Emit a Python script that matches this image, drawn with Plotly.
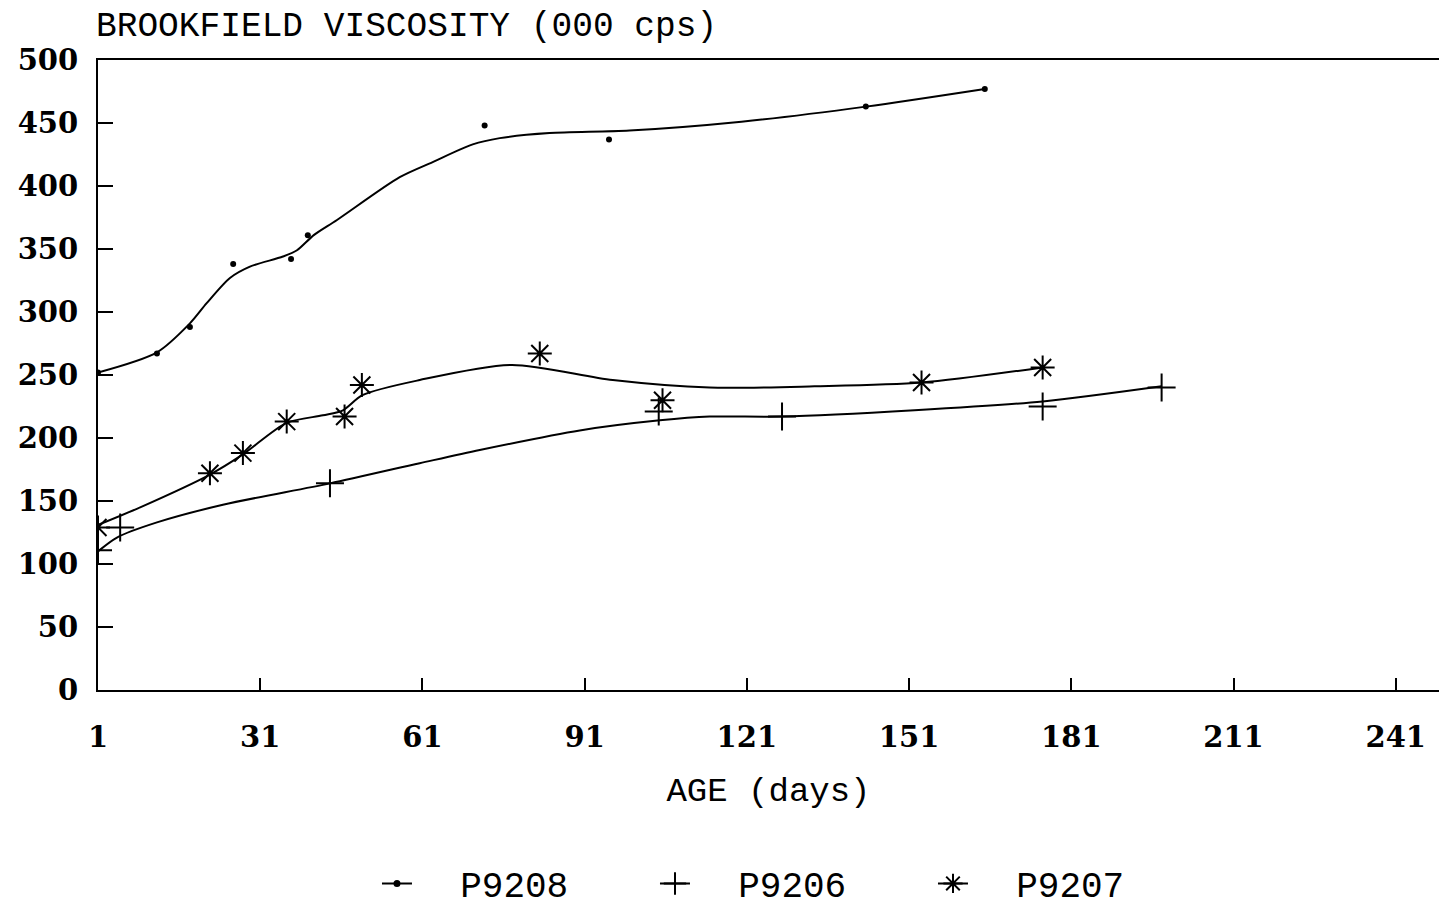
import plotly.graph_objects as go

# ---- data ----
p9208_days = [1, 11.9, 18, 26, 36.7, 39.8, 72.5, 95.5, 143, 165]
p9208_vals = [252, 267, 288, 338, 342, 361, 448, 437, 463, 477]
p9208_fit_days = [1, 11.9, 18, 21.1, 25.4, 29.1, 35.2, 37.8, 40.9, 45.2, 56.8, 62.9, 70.3, 75.3, 84.5, 99.3, 120, 143, 165]
p9208_fit_vals = [252, 268, 291, 307, 327, 336, 344, 349, 361, 373, 407, 419, 433, 438, 442, 444, 451, 463, 477]

p9206_days = [1, 5.1, 43.9, 104.7, 127.5, 175.7, 197.7]
p9206_vals = [111, 129, 164, 221, 217, 225, 240]
p9206_fit_days = [1, 4.5, 11.9, 24.1, 43.9, 60.5, 71.6, 90.1, 104.9, 114.1, 127.5, 152, 175.7, 197.7]
p9206_fit_vals = [110, 121, 133, 147, 164, 180, 190.5, 206, 214, 217, 217, 222, 229, 241]

p9207_days = [1, 21.7, 27.8, 35.9, 46.6, 49.8, 82.7, 105.4, 153.3, 175.7]
p9207_vals = [129, 172, 188, 213, 217, 242, 267, 230, 244, 256]
p9207_fit_days = [1, 8.8, 21.7, 27.8, 35.9, 42.6, 46.3, 49.9, 60.5, 77.5, 96.2, 114.1, 133.5, 153.3, 175.7]
p9207_fit_vals = [131, 145, 171, 187, 212, 218, 222, 234, 246, 258, 246, 240, 241, 244, 256]

x_ticks = [1, 31, 61, 91, 121, 151, 181, 211, 241]
y_ticks = [0, 50, 100, 150, 200, 250, 300, 350, 400, 450, 500]

series = [
    ("P9208", p9208_days, p9208_vals, p9208_fit_days, p9208_fit_vals,
     dict(symbol="circle", size=6, color="black")),
    ("P9206", p9206_days, p9206_vals, p9206_fit_days, p9206_fit_vals,
     dict(symbol="cross-thin", size=20, color="black", line=dict(width=2, color="black"))),
    ("P9207", p9207_days, p9207_vals, p9207_fit_days, p9207_fit_vals,
     dict(symbol="asterisk", size=20, color="black", line=dict(width=2, color="black"))),
]

TXT = "Liberation Mono"
TICK = "DejaVu Serif"
NB = "\u00a0"

fig = go.Figure()
for name, dx, dy, fx, fy, mk in series:
    fig.add_trace(go.Scatter(x=fx, y=fy, mode="lines",
                             line=dict(color="black", width=2, shape="spline", smoothing=0.8),
                             showlegend=False, hoverinfo="skip"))
    fig.add_trace(go.Scatter(x=dx, y=dy, mode="markers", marker=mk, showlegend=False, name=name))
for name, dx, dy, fx, fy, mk in series:
    lmk = dict(mk)
    lmk["size"] = 7 if name == "P9208" else 18
    fig.add_trace(go.Scatter(x=[None], y=[None], mode="lines+markers", name=NB * 2 + name,
                             line=dict(color="black", width=2), marker=lmk))

fig.update_layout(
    width=1439, height=909,
    margin=dict(l=98, r=0, t=60, b=219),
    paper_bgcolor="white", plot_bgcolor="white",
    showlegend=True,
    legend=dict(orientation="h", x=0.519, xanchor="center", yref="container", y=0.028, yanchor="middle",
                font=dict(family=TXT, size=36, color="black"),
                entrywidth=233, entrywidthmode="pixels", bgcolor="rgba(0,0,0,0)"),
    font=dict(family=TXT, color="black"),
)
fig.update_xaxes(range=[1, 249], tickmode="array", tickvals=x_ticks, ticktext=[str(t) for t in x_ticks],
                 ticks="inside", ticklen=12, tickwidth=2, tickcolor="black",
                 showline=True, linecolor="black", linewidth=2, mirror=True,
                 showgrid=False, zeroline=False, ticklabelstandoff=20,
                 tickfont=dict(family=TICK, size=29, color="black", weight="bold"),
                 title=dict(text="AGE (days)", font=dict(family=TXT, size=34, color="black"), standoff=24))
fig.update_yaxes(range=[0, 500], tickmode="array", tickvals=y_ticks, ticktext=[str(t) for t in y_ticks],
                 ticks="inside", ticklen=15, tickwidth=2, tickcolor="black",
                 showline=True, linecolor="black", linewidth=2,
                 showgrid=False, zeroline=False, ticklabelstandoff=12,
                 tickfont=dict(family=TICK, size=29, color="black", weight="bold"))
fig.add_annotation(text="BROOKFIELD VISCOSITY (000 cps)", xref="paper", yref="paper",
                   x=0, xanchor="left", y=1.0, yanchor="bottom", yshift=12, xshift=-4, showarrow=False,
                   font=dict(family=TXT, size=34.5, color="black"))

fig.write_html("out.html", config={"displayModeBar": False},
               post_script="document.body.style.margin='0';")
